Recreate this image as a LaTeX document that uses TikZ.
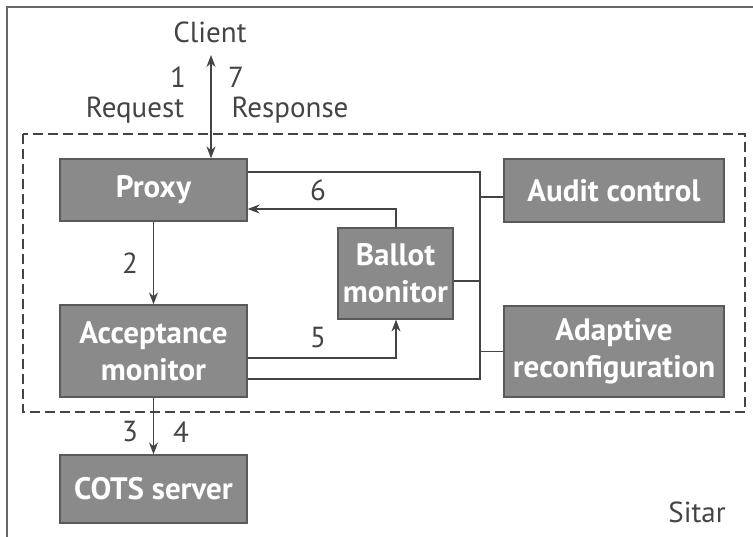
\documentclass[tikz,border=0pt]{standalone}
\usepackage{fontspec}
\setmainfont{PT Sans}
\usetikzlibrary{arrows.meta,calc}
\definecolor{boxfill}{HTML}{8A8A8A}
\definecolor{boxline}{HTML}{5A5A5A}
\definecolor{ink}{HTML}{444444}
\begin{document}
\begin{tikzpicture}[x=1pt,y=-1pt,
  box/.style={draw=boxline,line width=1.2pt,fill=boxfill,text=white,
    font=\fontsize{31}{37}\selectfont\bfseries,align=center,inner sep=0pt},
  lbl/.style={text=ink,font=\fontsize{29}{30}\selectfont,inner sep=0pt},
  conn/.style={draw=ink,line width=1.3pt},
  arr/.style={conn,-{Stealth[length=12pt,width=9pt]}}]
\useasboundingbox (0,0) rectangle (753,537);
% outer frame (left and top edges)
\draw[draw=gray!80!black,line width=1.5pt] (7,537) -- (7,7) -- (753,7);
% dashed boundary
\draw[draw=ink,line width=1.2pt,dash pattern=on 10pt off 5pt] (23,134) rectangle (745,412);
% boxes
\node[box,minimum width=187pt,minimum height=62pt] (proxy) at (153.5,190) {Proxy};
\node[box,minimum width=187pt,minimum height=92pt] (acc) at (153.5,351) {Acceptance\\monitor};
\node[box,minimum width=187pt,minimum height=68pt] (cots) at (153.5,489) {COTS server};
\node[box,minimum width=220pt,minimum height=63pt] (audit) at (614,190.5) {Audit control};
\node[box,minimum width=220pt,minimum height=91pt] (adapt) at (614,351.5) {Adaptive\\reconfiguration};
\node[box,minimum width=115pt,minimum height=91pt] (ballot) at (395.5,273.5) {Ballot\\monitor};
% labels
\node[lbl] (client) at (210,32) {Client};
\node[lbl] (l1) at (178,77) {1};
\node[lbl] (l7) at (236,77) {7};
\node[lbl] (req) at (135,110) {Request};
\node[lbl] (resp) at (290,110) {Response};
\node[lbl] (l6) at (318,190) {6};
\node[lbl] (l2) at (130,263) {2};
\node[lbl] (l5) at (318,338) {5};
\node[lbl] (l3) at (130,432) {3};
\node[lbl] (l4) at (181,432) {4};
\node[lbl] (sitar) at (697,512) {Sitar};
% coordinates
\coordinate (ctop) at (211,55);
\coordinate (bus) at (480,0);
\coordinate (vb) at (396,0);
\coordinate (y172) at (0,172);
\coordinate (y379) at (0,379);
\coordinate (y197) at (0,197);
\coordinate (y281) at (0,281);
\coordinate (y209) at (0,209);
\coordinate (y358) at (0,358);
% connectors
\draw[conn,{Stealth[length=12pt,width=9pt]}-{Stealth[length=12pt,width=9pt]}] (ctop) -- (ctop |- proxy.north);
\draw[arr] (proxy.south) -- (acc.north);
\draw[arr] (acc.south) -- (cots.north);
\draw[conn] (proxy.east |- y172) -- (bus |- y172) -- (bus |- y379) -- (acc.east |- y379);
\draw[conn] (audit.west |- y197) -- (bus |- y197);
\draw[conn] (ballot.east |- y281) -- (bus |- y281);
\draw[conn] (adapt.west) -- (bus |- adapt.west);
\draw[arr] (vb |- ballot.north) -- (vb |- y209) -- (proxy.east |- y209);
\draw[arr] (acc.east |- y358) -- (vb |- y358) -- (vb |- ballot.south);
\end{tikzpicture}
\end{document}
